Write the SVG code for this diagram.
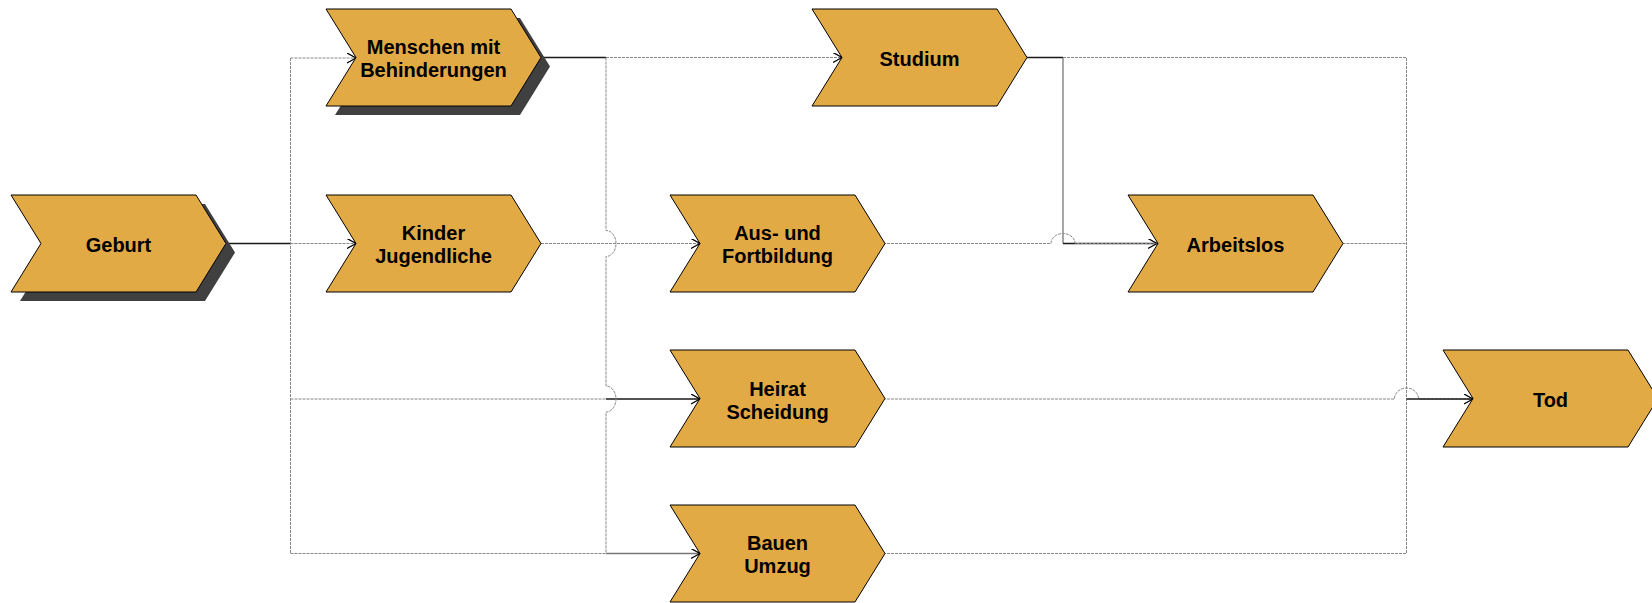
<svg xmlns="http://www.w3.org/2000/svg" width="1652" height="603" viewBox="0 0 1652 603">
<style>
.node{fill:#E2AA45;stroke:#000;stroke-width:1}
.shadow{fill:#404040}
.lbl{font-family:"Liberation Sans",Arial,sans-serif;font-weight:bold;font-size:20px;fill:#000;text-anchor:middle}
.dash{fill:none;stroke:#888;stroke-width:1;stroke-dasharray:3 1}
.solid{fill:none;stroke:#1a1a1a;stroke-width:1.3}
.gsolid{fill:none;stroke:#777;stroke-width:1.3}
</style>
<defs>
<path id="evt" d="M0,0 H185 L215,48.5 L185,97 H0 L30,48.5 Z"/>
<marker id="arr" markerUnits="userSpaceOnUse" markerWidth="12" markerHeight="12" refX="9" refY="5" orient="auto">
<path d="M0,0 L9,5 L0,10" fill="none" stroke="#000" stroke-width="1.3"/>
</marker>
</defs>
<g id="connectors">
<!-- Geburt fan-out -->
<path class="solid" d="M226,243.5 H290.5"/>
<path class="dash" d="M290.5,58 V553.5"/>
<path class="dash" d="M290.5,58 H356" marker-end="url(#arr)"/>
<path class="dash" d="M290.5,243.5 H356" marker-end="url(#arr)"/>
<path class="dash" d="M290.5,399 H606"/>
<path class="solid" d="M606,399 H700" marker-end="url(#arr)"/>
<path class="dash" d="M290.5,553.5 H606"/>
<path class="gsolid" d="M606,553.5 H700" marker-end="url(#arr)"/>
<!-- Menschen fan-out -->
<path class="solid" d="M541,57.5 H606"/>
<path class="dash" d="M606,57.5 H842" marker-end="url(#arr)"/>
<path class="dash" d="M606,57.5 V230.5 A10 13 0 0 1 606,256.5 V386 A10 13 0 0 1 606,412 V553.5"/>
<!-- Kinder -> Aus -->
<path class="dash" d="M541,243.5 H700" marker-end="url(#arr)"/>
<!-- Studium -->
<path class="solid" d="M1027,57.5 H1063"/>
<path class="gsolid" d="M1063,57.5 V243.5"/>
<path class="solid" d="M1063,243.5 H1157" marker-end="url(#arr)"/>
<path class="dash" d="M1063,57.5 H1406.5 V553.5"/>
<!-- Aus -> Arbeitslos -->
<path class="dash" d="M883,243.5 H1051 A12 10 0 0 1 1075,243.5 H1157"/>
<!-- Arbeitslos -> Tod -->
<path class="dash" d="M1342.5,243.5 H1406.5"/>
<!-- Heirat -> Tod -->
<path class="dash" d="M883,399 H1394.5 A12 11 0 0 1 1418.5,399 H1473"/>
<path class="solid" d="M1406.5,399 H1473" marker-end="url(#arr)"/>
<!-- Bauen -> Tod -->
<path class="dash" d="M883,553.5 H1406.5"/>
</g>
<g id="n-geburt">
<use href="#evt" x="20" y="204" class="shadow"/>
<use href="#evt" x="11" y="195" class="node"/>
<text class="lbl" x="118.5" y="251.5">Geburt</text>
</g>
<g id="n-menschen">
<use href="#evt" x="335" y="18" class="shadow"/>
<use href="#evt" x="326" y="9" class="node"/>
<text class="lbl" x="433.5" y="54">Menschen mit</text>
<text class="lbl" x="433.5" y="77">Behinderungen</text>
</g>
<g id="n-kinder">
<use href="#evt" x="326" y="195" class="node"/>
<text class="lbl" x="433.5" y="240">Kinder</text>
<text class="lbl" x="433.5" y="263">Jugendliche</text>
</g>
<g id="n-studium">
<use href="#evt" x="812" y="9" class="node"/>
<text class="lbl" x="919.5" y="65.5">Studium</text>
</g>
<g id="n-aus">
<use href="#evt" x="670" y="195" class="node"/>
<text class="lbl" x="777.5" y="240">Aus- und</text>
<text class="lbl" x="777.5" y="263">Fortbildung</text>
</g>
<g id="n-heirat">
<use href="#evt" x="670" y="350" class="node"/>
<text class="lbl" x="777.5" y="395.5">Heirat</text>
<text class="lbl" x="777.5" y="418.5">Scheidung</text>
</g>
<g id="n-bauen">
<use href="#evt" x="670" y="505" class="node"/>
<text class="lbl" x="777.5" y="550">Bauen</text>
<text class="lbl" x="777.5" y="573">Umzug</text>
</g>
<g id="n-arbeitslos">
<use href="#evt" x="1128" y="195" class="node"/>
<text class="lbl" x="1235.5" y="251.5">Arbeitslos</text>
</g>
<g id="n-tod">
<use href="#evt" x="1443" y="350" class="node"/>
<text class="lbl" x="1550.5" y="407">Tod</text>
</g>
</svg>
